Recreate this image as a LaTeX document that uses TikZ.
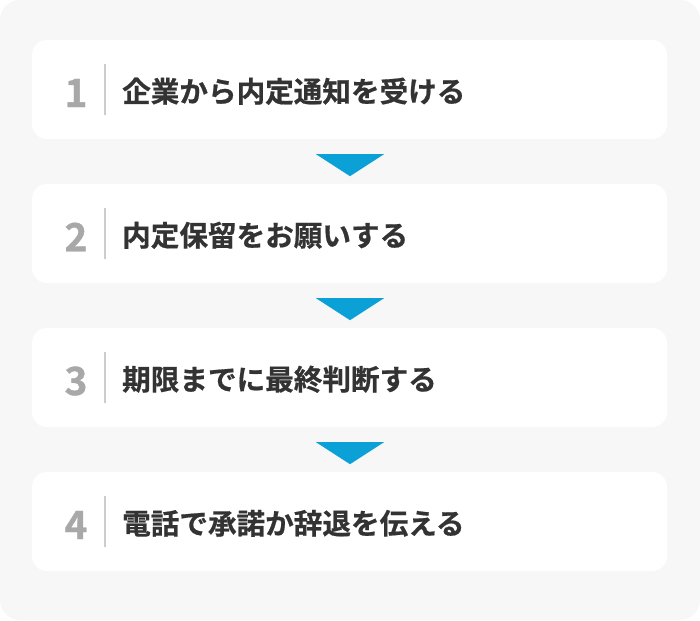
\documentclass[tikz,border=0pt]{standalone}
\usepackage{fontspec}
\usetikzlibrary{calc}
\newfontfamily\jpfont[FakeBold=0.6]{Noto Sans CJK JP Bold}
\newfontfamily\numfont[FakeBold=0.8]{Noto Sans CJK JP Bold}
\definecolor{bgc}{HTML}{F7F7F7}
\definecolor{txtc}{HTML}{333333}
\definecolor{numc}{HTML}{A8A8A8}
\definecolor{divc}{HTML}{CCCCCC}
\definecolor{arrc}{HTML}{0BA0D6}
\tikzset{
  stepbox/.style={rectangle, fill=white, draw=none, rounded corners=15pt, minimum width=635pt, minimum height=99pt, inner sep=0pt},
  numlabel/.style={inner sep=0pt, text=numc, font=\numfont\fontsize{39}{42}\selectfont},
  steplabel/.style={inner sep=0pt, anchor=west, text=txtc, font=\jpfont\fontsize{28.6}{34}\selectfont},
  divline/.style={draw=divc, line width=1.5pt},
  arrowtri/.style={fill=arrc, draw=none}
}
\begin{document}
\begin{tikzpicture}[x=1pt,y=-1pt]
\useasboundingbox (0,0) rectangle (700,620);
\fill[white] (0,0) rectangle (700,620);
\fill[bgc, rounded corners=20pt] (0,0) rectangle (700,620);
\foreach \i/\c/\t in {1/89.5/企業から内定通知を受ける, 2/233.5/内定保留をお願いする, 3/377.5/期限までに最終判断する, 4/521.5/電話で承諾か辞退を伝える}{
  \node[stepbox] (b\i) at (349.5,\c) {};
  \node[numlabel] (n\i) at (76,\c+3.5) {\i};
  \coordinate (dt\i) at (105,\c-25.5);
  \coordinate (db\i) at (105,\c+25.5);
  \draw[divline] (dt\i) -- (db\i);
  \node[steplabel] (t\i) at (122,\c+1.8) {\t};
}
\foreach \i/\j in {1/2,2/3,3/4}{
  \fill[arrowtri] ($(b\i.south)+(-33.5,15)$) -- ($(b\i.south)+(34.5,15)$) -- ($(b\i.south)+(0.5,37)$) -- cycle;
}
\end{tikzpicture}
\end{document}
